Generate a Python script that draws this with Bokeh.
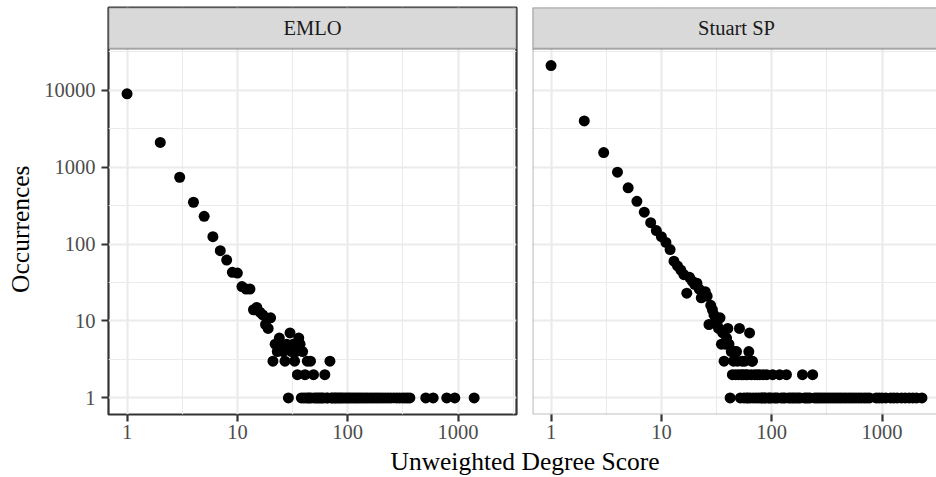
import math
from bokeh.plotting import figure
from bokeh.models import (Range1d, FixedTicker, BoxAnnotation, Label,
                          NumeralTickFormatter, ColumnDataSource)
from bokeh.layouts import column, row
from bokeh.embed import file_html
from bokeh.resources import INLINE

# ---------------- data ----------------
panels = ["EMLO", "Stuart SP"]

emlo_degree = [1, 2, 3, 4, 5, 6, 7, 8, 9, 10, 11, 12, 13, 14, 15, 16, 17, 18, 19, 20,
               21, 22, 23, 24, 25, 26, 27, 28, 29, 30, 31, 32, 33, 34, 35, 36, 37, 38, 39, 40,
               41, 42, 43, 44, 45, 46, 47, 49, 50, 52, 54, 56, 58, 60, 62, 64, 66, 69, 71, 73,
               76, 78, 81, 84, 87, 90, 94, 98, 102, 106, 111, 116, 121, 126, 132, 138, 145, 152,
               160, 168, 177, 186, 196, 207, 219, 232, 246, 261, 277, 294, 312, 330, 348, 366,
               510, 595, 790, 935, 1400]
emlo_count = [9000, 2100, 740, 350, 230, 125, 82, 62, 43, 42, 28, 26, 26, 14, 15, 13, 12, 9, 8, 11,
              3, 5, 4, 6, 5, 4, 3, 5, 1, 7, 4, 5, 3, 4, 2, 6, 5, 1, 4, 1,
              2, 1, 3, 1, 1, 3, 1, 2, 1, 1, 1, 1, 1, 1, 2, 1, 1, 3, 1, 1,
              1, 1, 1, 1, 1, 1, 1, 1, 1, 1, 1, 1, 1, 1, 1, 1, 1, 1,
              1, 1, 1, 1, 1, 1, 1, 1, 1, 1, 1, 1, 1, 1, 1, 1,
              1, 1, 1, 1, 1]

stuart_degree = [1, 2, 3, 4, 5, 6, 7, 8, 9, 10, 11, 12, 13, 14, 15, 16, 17, 18, 19, 20,
                 21, 22, 23, 24, 25, 26, 27, 28, 29, 30, 31, 32, 33, 34, 35, 36, 37, 38, 39, 40,
                 41, 42, 43, 44, 45, 46, 47, 48, 49, 50, 51, 52, 53, 54, 55, 56, 57, 58, 59, 60,
                 61, 62, 63, 64, 65, 66, 67, 68, 70, 72, 74, 76, 78, 80, 82, 84, 86, 88, 90, 93,
                 96, 99, 102, 105, 109, 113, 118, 122, 127, 132, 136, 142, 148, 154, 160, 167, 174, 181,
                 190, 198, 206, 214, 223, 235, 245, 256, 268, 281, 295, 310, 326, 343, 361, 380,
                 400, 421, 444, 468, 494, 521, 550, 581, 614, 650, 690, 730, 770, 885, 940, 1000,
                 1080, 1200, 1280, 1370, 1500, 1620, 1760, 1900, 2050, 2300]
stuart_count = [21000, 4000, 1550, 860, 540, 360, 260, 190, 150, 125, 105, 85, 60, 52, 46, 40, 23, 37, 33, 30,
                31, 26, 20, 22, 24, 21, 9, 16, 14, 12, 10, 9, 8, 11, 5, 7, 3, 5, 6, 8,
                5, 1, 4, 2, 3, 4, 2, 4, 3, 2, 8, 1, 2, 3, 2, 1, 3, 2, 1, 2,
                1, 4, 7, 1, 2, 3, 3, 1, 2, 1, 2, 1, 2, 1, 1, 2, 1, 1, 2, 1,
                1, 1, 2, 1, 1, 1, 2, 1, 1, 1, 2, 1, 1, 1, 1, 1, 1, 1,
                2, 1, 1, 1, 1, 2, 1, 1, 1, 1, 1, 1, 1, 1, 1, 1,
                1, 1, 1, 1, 1, 1, 1, 1, 1, 1, 1, 1, 1, 1, 1, 1,
                1, 1, 1, 1, 1, 1, 1, 1, 1, 1]

x_ticks = [1, 10, 100, 1000]
x_tick_labels = ["1", "10", "100", "1000"]
y_ticks = [1, 10, 100, 1000, 10000]
y_tick_labels = ["1", "10", "100", "1000", "10000"]
x_title = "Unweighted Degree Score"
y_title = "Occurrences"

# ---------------- styling ----------------
FONT = "Liberation Serif"
BORDER = "#333333"
GRID = "#EBEBEB"
STRIP_FILL = "#D9D9D9"
LW = 2.2

# ggplot-like 5% expansion in log space (shared scales)
all_x = [math.log10(v) for v in emlo_degree + stuart_degree]
all_y = [math.log10(v) for v in emlo_count + stuart_count]
xlo, xhi = min(all_x), max(all_x)
ylo, yhi = min(all_y), max(all_y)
xe = 0.05 * (xhi - xlo)
ye = 0.05 * (yhi - ylo)
x0, x1 = xlo - xe, xhi + xe
y0, y1 = ylo - ye, yhi + ye

TOP = 7                # frame (strip) top
PANEL_W = 408          # panel frame width (px)
RIGHT_W = 404          # visible part of right panel
PANEL_H = 365.6        # data panel height (px)
STRIP_H = 41.4         # strip height (px)
FRAME_H = 407
BOTTOM = 34
FIG_H = TOP + FRAME_H + BOTTOM

px_per_dec_y = PANEL_H / (y1 - y0)
y_top = y1 + STRIP_H / px_per_dec_y
x1_right = x0 + (x1 - x0) * RIGHT_W / PANEL_W

xt = FixedTicker(ticks=x_ticks, minor_ticks=[10 ** 0.5, 10 ** 1.5, 10 ** 2.5, 10 ** 3.5])
yt = FixedTicker(ticks=y_ticks, minor_ticks=[10 ** 0.5, 10 ** 1.5, 10 ** 2.5, 10 ** 3.5, 10 ** 4.5])


def make_panel(name, xs, ys, left, xend, width, min_left, min_right):
    p = figure(width=width, height=FIG_H,
               x_axis_type="log", y_axis_type="log",
               x_range=Range1d(10 ** x0, 10 ** xend),
               y_range=Range1d(10 ** y0, 10 ** y_top),
               toolbar_location=None, output_backend="svg",
               min_border_left=min_left, min_border_right=min_right,
               min_border_top=TOP, min_border_bottom=BOTTOM)
    p.background_fill_color = "white"
    p.border_fill_color = "white"

    for g in (p.xgrid, p.ygrid):
        g.grid_line_color = GRID
        g.grid_line_width = LW
        g.minor_grid_line_color = GRID
        g.minor_grid_line_width = 1.1
    p.xgrid.ticker = xt
    p.ygrid.ticker = yt

    src = ColumnDataSource(dict(x=xs, y=ys))
    p.scatter("x", "y", source=src, size=11, fill_color="black", line_color=None)

    ax = p.xaxis[0]
    ax.ticker = xt
    ax.formatter = NumeralTickFormatter(format="0")
    ax.major_label_overrides = {int(t): s for t, s in zip(x_ticks, x_tick_labels)}
    ax.axis_line_color = None
    ax.major_tick_line_color = BORDER
    ax.major_tick_line_width = LW
    ax.major_tick_out = 7
    ax.major_tick_in = 0
    ax.minor_tick_line_color = None
    ax.major_label_standoff = 3
    ax.major_label_text_font = FONT
    ax.major_label_text_font_size = "20.5px"
    ax.major_label_text_color = "#4D4D4D"

    ay = p.yaxis[0]
    ay.ticker = yt
    if left:
        ay.formatter = NumeralTickFormatter(format="0")
        ay.major_label_overrides = {int(t): s for t, s in zip(y_ticks, y_tick_labels)}
        ay.axis_line_color = None
        ay.major_tick_line_color = BORDER
        ay.major_tick_line_width = LW
        ay.major_tick_out = 7
        ay.major_tick_in = 0
        ay.minor_tick_line_color = None
        ay.major_label_standoff = 6
        ay.major_label_text_font = FONT
        ay.major_label_text_font_size = "20.5px"
        ay.major_label_text_color = "#4D4D4D"
        p.outline_line_color = BORDER
        p.outline_line_width = LW
        far_right = 10 ** x1
    else:
        ay.visible = False
        p.outline_line_color = None
        far_right = 10 ** (x1 + 0.3)
        p.add_layout(BoxAnnotation(left=10 ** x0, right=far_right,
                                   bottom=10 ** y0, top=10 ** y_top,
                                   fill_color=None, fill_alpha=0,
                                   line_color=BORDER, line_width=LW))

    # facet strip
    p.add_layout(BoxAnnotation(left=10 ** x0, right=far_right,
                               bottom=10 ** y1, top=10 ** y_top,
                               fill_color=STRIP_FILL, fill_alpha=1,
                               line_color=BORDER, line_width=LW))
    p.add_layout(Label(x=10 ** ((x0 + x1) / 2), y=10 ** (y1 + (y_top - y1) * 0.5),
                       text=name, text_align="center", text_baseline="middle",
                       text_font=FONT, text_font_size="20.5px", text_color="#1A1A1A"))
    return p


# y-axis title column
YT_W = 40
p0 = figure(width=YT_W, height=FIG_H, x_range=Range1d(0, YT_W), y_range=Range1d(0, FIG_H),
            toolbar_location=None, output_backend="svg",
            min_border_left=0, min_border_right=0, min_border_top=0, min_border_bottom=0)
p0.axis.visible = False
p0.grid.visible = False
p0.outline_line_color = None
p0.add_layout(Label(x=20, y=FIG_H - 244, text=y_title, angle=math.pi / 2,
                    text_align="center", text_baseline="middle",
                    text_font=FONT, text_font_size="25.5px", text_color="black"))

p1 = make_panel(panels[0], emlo_degree, emlo_count, True, x1, 68 + PANEL_W + 16, 68, 16)
p2 = make_panel(panels[1], stuart_degree, stuart_count, False, x1_right, RIGHT_W, 0, 0)

# shared x-axis title
XT_H = 477 - FIG_H
p3 = figure(width=936, height=XT_H, x_range=Range1d(0, 936), y_range=Range1d(0, XT_H),
            toolbar_location=None, output_backend="svg",
            min_border_left=0, min_border_right=0, min_border_top=0, min_border_bottom=0)
p3.axis.visible = False
p3.grid.visible = False
p3.outline_line_color = None
p3.add_layout(Label(x=524.5, y=XT_H - 13, text=x_title, text_align="center",
                    text_baseline="middle", text_font=FONT,
                    text_font_size="25.5px", text_color="black"))

layout = column(row(p0, p1, p2), p3)
open("out.html", "w").write(file_html(layout, INLINE))
